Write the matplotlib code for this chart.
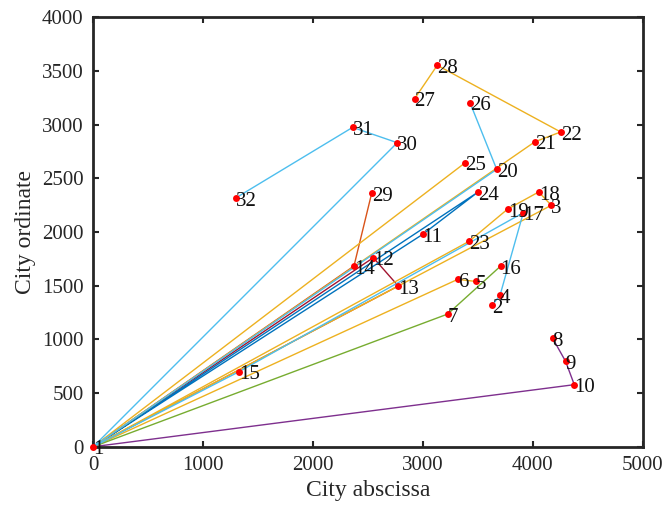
import matplotlib
matplotlib.use("Agg")
import matplotlib.pyplot as plt

# City coordinates (city number -> position)
city_ids = list(range(1, 33))
city_x = [0, 3631, 4168, 3701, 3479, 3316, 3225, 4180, 4298, 4377,
          2997, 2548, 2775, 2372, 1326, 3707, 3913, 4053, 3771, 3671,
          4019, 4253, 3419, 3498, 3385, 3428, 2924, 3130, 2533, 2766,
          2360, 1296]
city_y = [0, 1320, 2249, 1410, 1540, 1559, 1236, 1010, 795, 578,
          1978, 1761, 1497, 1683, 699, 1683, 2180, 2373, 2214, 2584,
          2841, 2932, 1913, 2370, 2646, 3205, 3242, 3553, 2360, 2832,
          2975, 2317]

# Route polylines (sequences of city numbers)
route_blue = [1, 11, 24, 1]
route_orange_a = [1, 14, 29]
route_orange_b = [1, 13]
route_yellow_a = [1, 21, 22, 28, 27]
route_yellow_b = [1, 25]
route_yellow_c = [1, 6, 5]
route_yellow_d = [1, 23, 19, 18, 3, 1]
route_purple = [1, 10, 9, 8]
route_green = [1, 7, 16]
route_lblue_a = [1, 30, 31, 32]
route_lblue_b = [1, 20, 26]
route_lblue_c = [1, 15, 17, 4, 2]
route_dred = [1, 12, 13]

x_ticks = [0, 1000, 2000, 3000, 4000, 5000]
y_ticks = [0, 500, 1000, 1500, 2000, 2500, 3000, 3500, 4000]

C_BLUE = "#0072BD"
C_ORANGE = "#D95319"
C_YELLOW = "#EDB120"
C_PURPLE = "#7E2F8E"
C_GREEN = "#77AC30"
C_LBLUE = "#4DBEEE"
C_DRED = "#A2142F"

styled_routes = [
    (route_dred, C_DRED),
    (route_orange_b, C_ORANGE),
    (route_blue, C_BLUE),
    (route_orange_a, C_ORANGE),
    (route_yellow_a, C_YELLOW),
    (route_yellow_b, C_YELLOW),
    (route_yellow_c, C_YELLOW),
    (route_yellow_d, C_YELLOW),
    (route_purple, C_PURPLE),
    (route_green, C_GREEN),
    (route_lblue_a, C_LBLUE),
    (route_lblue_b, C_LBLUE),
    (route_lblue_c, C_LBLUE),
]

plt.rcParams['font.family'] = ['Liberation Serif', 'DejaVu Serif']

fig = plt.figure(figsize=(6.64, 5.14), dpi=100)
ax = fig.add_axes([0.1405, 0.1309, 0.968 - 0.1405, 0.9663 - 0.1309])

for route, col in styled_routes:
    xs = [city_x[c - 1] for c in route]
    ys = [city_y[c - 1] for c in route]
    ax.plot(xs, ys, color=col, lw=1.0, zorder=2, solid_capstyle='round')

ax.plot(city_x, city_y, 'o', color='red', markersize=5.0, zorder=3,
        markeredgewidth=0, clip_on=False)

for cid, cx, cy in zip(city_ids, city_x, city_y):
    ax.annotate(str(cid), (cx, cy), xytext=(0, -5.5), textcoords='offset points',
                fontsize=15, ha='left', va='baseline', color='#111111',
                zorder=4, annotation_clip=False)

ax.set_xlim(0, 5000)
ax.set_ylim(0, 4000)
ax.set_xticks(x_ticks)
ax.set_yticks(y_ticks)
ax.tick_params(direction='in', length=4.3, width=1.5, top=True, right=True,
               labelsize=15, colors='#262626', pad=7)
for sp in ax.spines.values():
    sp.set_linewidth(2.0)
    sp.set_color('#262626')
ax.set_xlabel('City abscissa', fontsize=17, color='#262626', labelpad=3)
ax.set_ylabel('City ordinate', fontsize=17, color='#262626', labelpad=4)

fig.savefig('out.png', dpi=100)
